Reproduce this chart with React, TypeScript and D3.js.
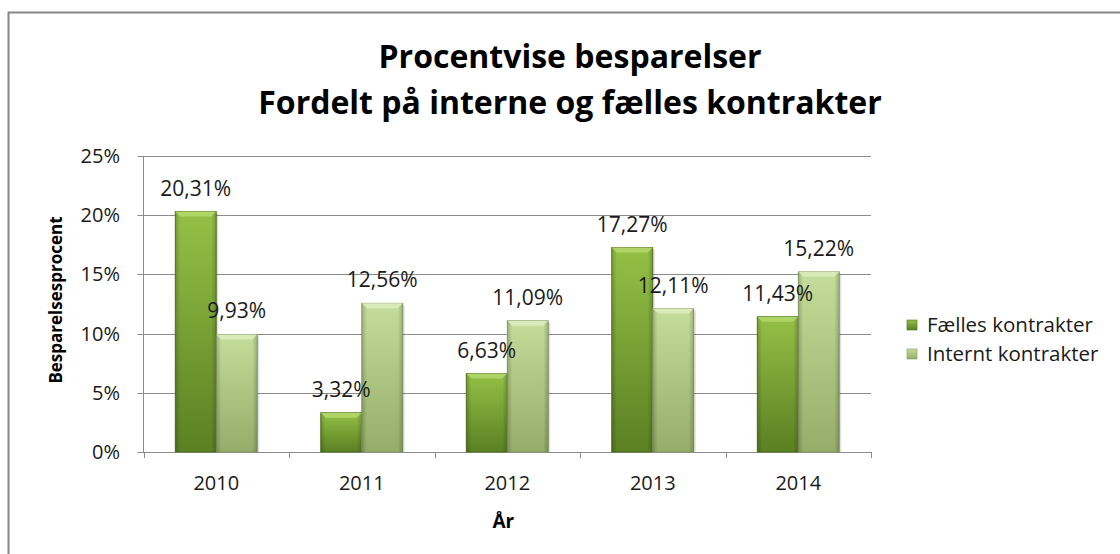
import React, { useEffect, useRef } from "react";
import * as d3 from "d3";

const years: string[] = ["2010", "2011", "2012", "2013", "2014"];
const faelles: number[] = [20.31, 3.32, 6.63, 17.27, 11.43];
const internt: number[] = [9.93, 12.56, 11.09, 12.11, 15.22];
const seriesNames: string[] = ["Fælles kontrakter", "Internt kontrakter"];
const yTicks: number[] = [0, 5, 10, 15, 20, 25];

const W = 1120;
const H = 554;
const FONT = "'Open Sans', 'DejaVu Sans', sans-serif";

function App() {
  const ref = useRef<any>();

  useEffect(() => {
    const svg = d3.select(ref.current);
    svg.selectAll("*").remove();

    const left = 143.5;
    const right = 871;
    const top = 156;
    const bottom = 452;

    const defs = svg.append("defs");
    // colours for the two series
    const palettes = [
      { id: "gFa", light: "#94c046", dark: "#5a8022", edge: "#4e6f1c", bevel: "#b4d86c" },
      { id: "gIn", light: "#c4dd9b", dark: "#95ac6a", edge: "#869c5f", bevel: "#dcedbd" },
    ];
    palettes.forEach((p) => {
      const g = defs
        .append("linearGradient")
        .attr("id", p.id)
        .attr("x1", "0%")
        .attr("x2", "0%")
        .attr("y1", "0%")
        .attr("y2", "100%");
      g.append("stop").attr("offset", "0%").attr("stop-color", p.light);
      g.append("stop").attr("offset", "100%").attr("stop-color", p.dark);
      const h = defs
        .append("linearGradient")
        .attr("id", p.id + "h")
        .attr("x1", "0%")
        .attr("x2", "100%")
        .attr("y1", "0%")
        .attr("y2", "0%");
      h.append("stop").attr("offset", "0%").attr("stop-color", "#000").attr("stop-opacity", 0.2);
      h.append("stop").attr("offset", "12%").attr("stop-color", "#000").attr("stop-opacity", 0);
      h.append("stop").attr("offset", "88%").attr("stop-color", "#000").attr("stop-opacity", 0);
      h.append("stop").attr("offset", "100%").attr("stop-color", "#000").attr("stop-opacity", 0.2);
    });

    // outer chart border
    svg
      .append("rect")
      .attr("x", 8.5)
      .attr("y", 12.5)
      .attr("width", W)
      .attr("height", H)
      .attr("fill", "#fff")
      .attr("stroke", "#868686")
      .attr("stroke-width", 2);

    const x = d3
      .scaleBand()
      .domain(years)
      .range([left, right])
      .paddingInner(0.436)
      .paddingOuter(0.218);

    const x1 = d3.scaleBand().domain(seriesNames).range([0, x.bandwidth()]);

    const y = d3.scaleLinear().domain([0, 25]).range([bottom, top]);

    // gridlines
    svg
      .append("g")
      .selectAll("line")
      .data(yTicks)
      .join("line")
      .attr("x1", left - 6)
      .attr("x2", right)
      .attr("y1", (d) => Math.round(y(d)) + 0.5)
      .attr("y2", (d) => Math.round(y(d)) + 0.5)
      .attr("stroke", "#8c8c8c")
      .attr("stroke-width", 1);

    // y axis line
    svg
      .append("line")
      .attr("x1", left)
      .attr("x2", left)
      .attr("y1", top)
      .attr("y2", bottom)
      .attr("stroke", "#8c8c8c");

    // x category ticks
    const step = x.step();
    const bounds = d3.range(years.length + 1).map((i) => left + i * step);
    svg
      .append("g")
      .selectAll("line")
      .data(bounds)
      .join("line")
      .attr("x1", (d) => Math.round(d) + 0.5)
      .attr("x2", (d) => Math.round(d) + 0.5)
      .attr("y1", bottom)
      .attr("y2", bottom + 6)
      .attr("stroke", "#8c8c8c");

    // y tick labels
    svg
      .append("g")
      .selectAll("text")
      .data(yTicks)
      .join("text")
      .attr("x", 120)
      .attr("y", (d) => y(d) + 7)
      .attr("text-anchor", "end")
      .attr("font-family", FONT)
      .attr("font-size", 20)
      .attr("fill", "#1a1a1a")
      .text((d) => d + "%");

    // x tick labels
    svg
      .append("g")
      .selectAll("text")
      .data(years)
      .join("text")
      .attr("x", (d) => (x(d) as number) + x.bandwidth() / 2)
      .attr("y", 490)
      .attr("text-anchor", "middle")
      .attr("font-family", FONT)
      .attr("font-size", 20)
      .attr("fill", "#1a1a1a")
      .text((d) => d);

    // bars
    const seriesData = [faelles, internt];
    seriesData.forEach((vals, si) => {
      const p = palettes[si];
      const g = svg.append("g");
      vals.forEach((v, i) => {
        const bx = (x(years[i]) as number) + (x1(seriesNames[si]) as number);
        const bw = x1.bandwidth();
        const by = y(v);
        const bh = bottom - by;
        const bar = g.append("g");
        // soft shadow
        bar
          .append("rect")
          .attr("x", bx + 2)
          .attr("y", by + 2)
          .attr("width", bw)
          .attr("height", bh - 2)
          .attr("fill", "#000")
          .attr("opacity", 0.12);
        bar
          .append("rect")
          .attr("x", bx)
          .attr("y", by)
          .attr("width", bw)
          .attr("height", bh)
          .attr("fill", `url(#${p.id})`)
          .attr("stroke", p.edge)
          .attr("stroke-width", 0.8);
        bar
          .append("rect")
          .attr("x", bx)
          .attr("y", by)
          .attr("width", bw)
          .attr("height", bh)
          .attr("fill", `url(#${p.id}h)`);
        const b = 5;
        bar
          .append("path")
          .attr(
            "d",
            `M${bx},${by}L${bx + bw},${by}L${bx + bw - b},${by + b}L${bx + b},${by + b}Z`
          )
          .attr("fill", p.bevel)
          .attr("opacity", 0.85);
      });
    });

    // data labels
    seriesData.forEach((vals, si) => {
      svg
        .append("g")
        .selectAll("text")
        .data(vals)
        .join("text")
        .attr(
          "x",
          (d, i) =>
            (x(years[i]) as number) + (x1(seriesNames[si]) as number) + x1.bandwidth() / 2
        )
        .attr("y", (d) => y(d) - 16)
        .attr("text-anchor", "middle")
        .attr("font-family", FONT)
        .attr("font-size", 21)
        .attr("fill", "#1a1a1a")
        .text((d) => d.toFixed(2).replace(".", ",") + "%");
    });

    // title
    const title = svg
      .append("text")
      .attr("text-anchor", "middle")
      .attr("font-family", FONT)
      .attr("font-weight", "bold")
      .attr("font-size", 32)
      .attr("fill", "#000");
    title.append("tspan").attr("x", 570).attr("y", 68).text("Procentvise besparelser");
    title
      .append("tspan")
      .attr("x", 570)
      .attr("y", 114)
      .text("Fordelt på interne og fælles kontrakter");

    // axis titles
    svg
      .append("text")
      .attr("transform", `translate(62,${(top + bottom) / 2 - 4}) rotate(-90)`)
      .attr("text-anchor", "middle")
      .attr("font-family", FONT)
      .attr("font-weight", "bold")
      .attr("font-size", 17)
      .attr("fill", "#000")
      .text("Besparelsesprocent");

    svg
      .append("text")
      .attr("x", (left + right) / 2 - 4)
      .attr("y", 528)
      .attr("text-anchor", "middle")
      .attr("font-family", FONT)
      .attr("font-weight", "bold")
      .attr("font-size", 19)
      .attr("fill", "#000")
      .text("År");

    // legend
    const legend = svg
      .append("g")
      .selectAll("g")
      .data(seriesNames)
      .join("g")
      .attr("transform", (d, i) => `translate(907,${320 + i * 29})`);
    legend
      .append("rect")
      .attr("width", 10)
      .attr("height", 10)
      .attr("fill", (d, i) => `url(#${palettes[i].id})`)
      .attr("stroke", (d, i) => palettes[i].edge)
      .attr("stroke-width", 0.6);
    legend
      .append("text")
      .attr("x", 20)
      .attr("y", 12)
      .attr("font-family", FONT)
      .attr("font-size", 20.5)
      .attr("fill", "#1a1a1a")
      .text((d) => d);
  }, []);

  return (
    <svg
      ref={ref}
      width={W}
      height={H}
      style={{ position: "absolute", left: 0, top: 0, display: "block" }}
    ></svg>
  );
}

export default App;
